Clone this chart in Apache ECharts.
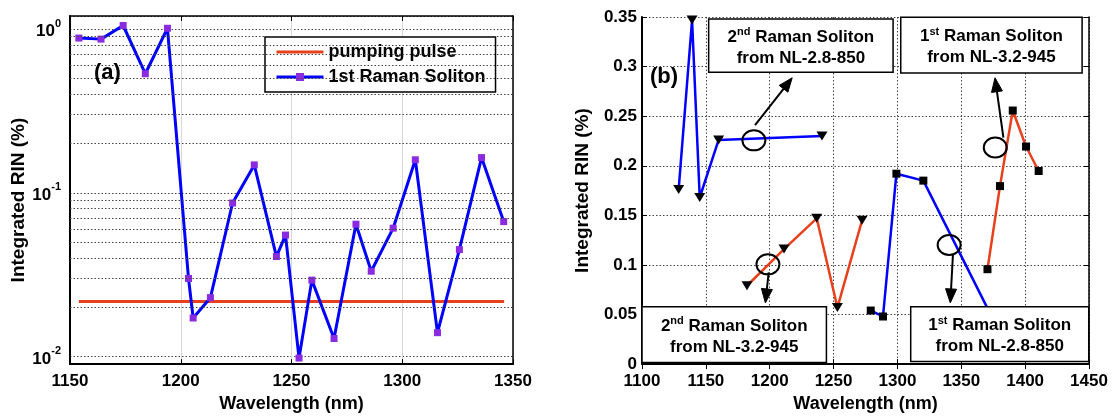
<!DOCTYPE html>
<html><head><meta charset="utf-8">
<script src="https://cdn.jsdelivr.net/npm/echarts@6/dist/echarts.min.js"></script>
<style>html,body{margin:0;padding:0;background:#fff}#c{width:1113px;height:418px}</style>
</head><body><div id="c"></div>
<script>
// ---------- Panel (a) data ----------
const waveA = [1154, 1164, 1174, 1184, 1194, 1203.5, 1205.6, 1213.4, 1223.4, 1233.2, 1243.2, 1247.3, 1253.4, 1259.2, 1269.2, 1279.1, 1286, 1295.9, 1305.9, 1315.9, 1325.8, 1335.8, 1345.8];
const rinA = [0.88, 0.867, 1.05, 0.533, 1.01, 0.030, 0.0172, 0.0229, 0.0866, 0.148, 0.0408, 0.0552, 0.0098, 0.0293, 0.0129, 0.0643, 0.0332, 0.0608, 0.159, 0.0140, 0.045, 0.164, 0.0667];
const pumpWave = [1154, 1346];
const pumpRin = [0.0217, 0.0217];
const minorGridA = [0.02, 0.03, 0.04, 0.05, 0.06, 0.07, 0.08, 0.09, 0.2, 0.3, 0.4, 0.5, 0.6, 0.7, 0.8, 0.9];

// ---------- Panel (b) data ----------
const wave2nd28 = [1128.7, 1139.2, 1145.2, 1160, 1240.9];
const rin2nd28  = [0.176, 0.347, 0.168, 0.226, 0.230];
const wave2nd32 = [1182.2, 1211.2, 1236.8, 1253, 1272.3];
const rin2nd32  = [0.079, 0.116, 0.147, 0.057, 0.145];
const wave1st28 = [1279.1, 1288.7, 1299.2, 1320.3, 1380];
const rin1st28  = [0.054, 0.048, 0.192, 0.185, 0.032];
const wave1st32 = [1370.5, 1380.3, 1390.3, 1400.7, 1410.6];
const rin1st32  = [0.0957, 0.1795, 0.2557, 0.2194, 0.1947];

// annotation boxes (data coords of panel b): [x0, y0(top), x1, y1(bottom)], label parts
const boxes = [
  {rect: [1152.2, 0.348, 1296.6, 0.2943], ord: '2', sup: 'nd', line2: 'from NL-2.8-850'},
  {rect: [1302.6, 0.3497, 1444.6, 0.2936], ord: '1', sup: 'st', line2: 'from NL-3.2-945'},
  {rect: [1100.0, 0.0578, 1244.4, 0.0017], ord: '2', sup: 'nd', line2: 'from NL-3.2-945'},
  {rect: [1310.4, 0.0578, 1449.8, 0.0027], ord: '1', sup: 'st', line2: 'from NL-2.8-850'}
];
const circles = [[1187.6, 0.2256], [1376.6, 0.2184], [1198.6, 0.1006], [1340.5, 0.1201]];
const arrows = [
  [[1188.5, 0.241], [1217.6, 0.2887]],
  [[1383.0, 0.2283], [1376.4, 0.2887]],
  [[1199.2, 0.0924], [1196.6, 0.0617]],
  [[1343.5, 0.111], [1341.4, 0.0617]]
];

const FONT = "'Liberation Sans', Arial, Helvetica, sans-serif";
const zip = (xs, ys) => xs.map((x, i) => [x, ys[i]]);
const RED = '#E8401C', BLUE = '#0000FF', PURPLE = '#8A2BE2';

const chart = echarts.init(document.getElementById('c'));

const tickLabel = {color: '#000', fontSize: 17, fontWeight: 'bold', fontFamily: FONT};
const nameStyle = {color: '#000', fontSize: 18, fontWeight: 'bold', fontFamily: FONT};
const dotted = {color: '#444', width: 1, type: [1.5, 2]};
const plain = v => String(v);

const option = {
  animation: false,
  textStyle: {fontFamily: FONT},
  grid: [
    {left: 70, top: 16, width: 443, height: 356},
    {left: 642, top: 17, width: 447, height: 354}
  ],
  legend: {
    data: [{name: 'pumping pulse', itemStyle: {color: 'rgba(0,0,0,0)', borderWidth: 0}}, {name: '1st Raman Soliton'}],
    orient: 'vertical', left: 265, top: 37,
    itemWidth: 47, itemHeight: 10, itemGap: 7,
    padding: [6, 10, 6, 10],
    lineStyle: {width: 3},
    backgroundColor: '#fff', borderColor: '#000', borderWidth: 1.5,
    textStyle: {color: '#000', fontSize: 18, fontWeight: 'bold', fontFamily: FONT},
    selectedMode: false
  },
  xAxis: [
    {gridIndex: 0, type: 'value', min: 1150, max: 1350, interval: 50,
     axisLine: {lineStyle: {color: '#000', width: 2}}, axisTick: {inside: true, length: 5, lineStyle: {color: '#000'}},
     axisLabel: Object.assign({margin: 9, formatter: plain}, tickLabel),
     splitLine: {show: true, lineStyle: {color: '#d8d8d8', width: 1}},
     name: 'Wavelength (nm)', nameLocation: 'middle', nameGap: 26, nameTextStyle: nameStyle},
    {gridIndex: 0, type: 'value', position: 'top', min: 1150, max: 1350, interval: 50,
     axisLine: {show: true, lineStyle: {color: '#000', width: 1.5}}, axisTick: {inside: true, length: 5, lineStyle: {color: '#000'}},
     axisLabel: {show: false}, splitLine: {show: false}},
    {gridIndex: 1, type: 'value', min: 1100, max: 1450, interval: 50,
     axisLine: {lineStyle: {color: '#000', width: 2}}, axisTick: {inside: true, length: 5, lineStyle: {color: '#000'}},
     axisLabel: Object.assign({margin: 9, formatter: plain}, tickLabel),
     splitLine: {show: true, lineStyle: dotted},
     name: 'Wavelength (nm)', nameLocation: 'middle', nameGap: 29, nameTextStyle: nameStyle},
    {gridIndex: 1, type: 'value', position: 'top', min: 1100, max: 1450, interval: 50,
     axisLine: {show: true, lineStyle: {color: '#000', width: 1.5}}, axisTick: {inside: true, length: 5, lineStyle: {color: '#000'}},
     axisLabel: {show: false}, splitLine: {show: false}}
  ],
  yAxis: [
    {gridIndex: 0, type: 'log', logBase: 10, min: 0.009, max: 1.2,
     axisLine: {show: true, lineStyle: {color: '#000', width: 2}}, axisTick: {show: false},
     axisLabel: {showMinLabel: false, showMaxLabel: false, margin: 9,
       formatter: v => '{b|10}{s|' + Math.round(Math.log10(v)) + '}',
       rich: {b: {fontSize: 17, fontWeight: 'bold', color: '#000', fontFamily: FONT, lineHeight: 22, verticalAlign: 'bottom'},
              s: {fontSize: 11, fontWeight: 'bold', color: '#000', fontFamily: FONT, verticalAlign: 'top'}}},
     splitLine: {show: true, lineStyle: dotted},
     name: 'Integrated RIN (%)', nameLocation: 'middle', nameGap: 40, nameTextStyle: Object.assign({}, nameStyle, {fontSize: 19, padding: [0, 0, 0, -20]})},
    {gridIndex: 0, type: 'log', logBase: 10, min: 0.009, max: 1.2, position: 'right',
     axisLine: {show: true, lineStyle: {color: '#000', width: 1.5}}, axisTick: {show: false},
     axisLabel: {show: false}, splitLine: {show: false}},
    {gridIndex: 1, type: 'value', min: 0, max: 0.35, interval: 0.05,
     axisLine: {show: true, lineStyle: {color: '#000', width: 2}}, axisTick: {inside: true, length: 5, lineStyle: {color: '#000'}},
     axisLabel: Object.assign({margin: 5}, tickLabel),
     splitLine: {show: true, lineStyle: dotted},
     name: 'Integrated RIN (%)', nameLocation: 'middle', nameGap: 50, nameTextStyle: Object.assign({}, nameStyle, {fontSize: 19})},
    {gridIndex: 1, type: 'value', min: 0, max: 0.35, interval: 0.05, position: 'right',
     axisLine: {show: true, lineStyle: {color: '#000', width: 1.5}}, axisTick: {inside: true, length: 5, lineStyle: {color: '#000'}},
     axisLabel: {show: false}, splitLine: {show: false}}
  ],
  series: [
    {name: 'pumping pulse', type: 'line', xAxisIndex: 0, yAxisIndex: 0, data: zip(pumpWave, pumpRin),
     symbol: 'none', lineStyle: {color: RED, width: 3}, itemStyle: {color: RED}, z: 3,
     markLine: {silent: true, symbol: 'none', label: {show: false}, animation: false,
       lineStyle: dotted, data: minorGridA.map(v => ({yAxis: v}))}},
    {name: '1st Raman Soliton', type: 'line', xAxisIndex: 0, yAxisIndex: 0, data: zip(waveA, rinA),
     symbol: 'rect', symbolSize: 7, lineStyle: {color: BLUE, width: 3}, itemStyle: {color: PURPLE}, z: 4},
    {name: '2nd RS NL-2.8-850', type: 'line', xAxisIndex: 2, yAxisIndex: 2, data: zip(wave2nd28, rin2nd28),
     symbol: 'triangle', symbolRotate: 180, symbolSize: [11, 9], lineStyle: {color: BLUE, width: 2.5}, itemStyle: {color: '#000'}, z: 4},
    {name: '2nd RS NL-3.2-945', type: 'line', xAxisIndex: 2, yAxisIndex: 2, data: zip(wave2nd32, rin2nd32),
     symbol: 'triangle', symbolRotate: 180, symbolSize: [11, 9], lineStyle: {color: RED, width: 2.5}, itemStyle: {color: '#000'}, z: 4},
    {name: '1st RS NL-2.8-850', type: 'line', xAxisIndex: 2, yAxisIndex: 2, data: zip(wave1st28, rin1st28),
     symbol: 'rect', symbolSize: 8, lineStyle: {color: BLUE, width: 2.5}, itemStyle: {color: '#000'}, z: 4},
    {name: '1st RS NL-3.2-945', type: 'line', xAxisIndex: 2, yAxisIndex: 2, data: zip(wave1st32, rin1st32),
     symbol: 'rect', symbolSize: 8, lineStyle: {color: RED, width: 2.5}, itemStyle: {color: '#000'}, z: 4}
  ]
};
chart.setOption(option);

// ---------- annotations (positioned through the panel-b coordinate system) ----------
const P = pt => chart.convertToPixel({seriesIndex: 2}, pt);
const g = [];
g.push({type: 'text', left: 94, top: 62, z: 100, style: {text: '(a)', fill: '#000', font: 'bold 22px ' + FONT}});
g.push({type: 'text', left: 650, top: 66, z: 100, style: {text: '(b)', fill: '#000', font: 'bold 22px ' + FONT}});
const rich = {
  m: {fontSize: 17, fontWeight: 'bold', fontFamily: FONT, fill: '#000', lineHeight: 21, verticalAlign: 'middle'},
  s: {fontSize: 11, fontWeight: 'bold', fontFamily: FONT, fill: '#000', lineHeight: 21, verticalAlign: 'top'}
};
boxes.forEach(b => {
  const p0 = P([b.rect[0], b.rect[1]]), p1 = P([b.rect[2], b.rect[3]]);
  g.push({type: 'rect', z: 100, shape: {x: p0[0], y: p0[1], width: p1[0] - p0[0], height: p1[1] - p0[1]},
          style: {fill: '#fff', stroke: '#000', lineWidth: 1.5}});
  g.push({type: 'text', z: 101, x: (p0[0] + p1[0]) / 2, y: (p0[1] + p1[1]) / 2 + 2,
          style: {text: '{m|' + b.ord + '}{s|' + b.sup + '}{m| Raman Soliton}\n{m|' + b.line2 + '}',
                  rich: rich, align: 'center', verticalAlign: 'middle'}});
});
circles.forEach(c => {
  const p = P(c);
  g.push({type: 'ellipse', z: 100, shape: {cx: p[0], cy: p[1], rx: 11.5, ry: 10},
          style: {fill: 'none', stroke: '#000', lineWidth: 2}});
});
arrows.forEach(a => {
  const s = P(a[0]), e = P(a[1]);
  const dx = e[0] - s[0], dy = e[1] - s[1], L = Math.hypot(dx, dy);
  const ux = dx / L, uy = dy / L, hl = 14, hw = 5.5;
  const bx = e[0] - ux * hl, by = e[1] - uy * hl;
  g.push({type: 'line', z: 100, shape: {x1: s[0], y1: s[1], x2: bx, y2: by}, style: {stroke: '#000', lineWidth: 2}});
  g.push({type: 'polygon', z: 100, shape: {points: [[e[0], e[1]], [bx - uy * hw, by + ux * hw], [bx + uy * hw, by - ux * hw]]},
          style: {fill: '#000', stroke: '#000'}});
});
chart.setOption({graphic: g});
</script>
</body></html>
